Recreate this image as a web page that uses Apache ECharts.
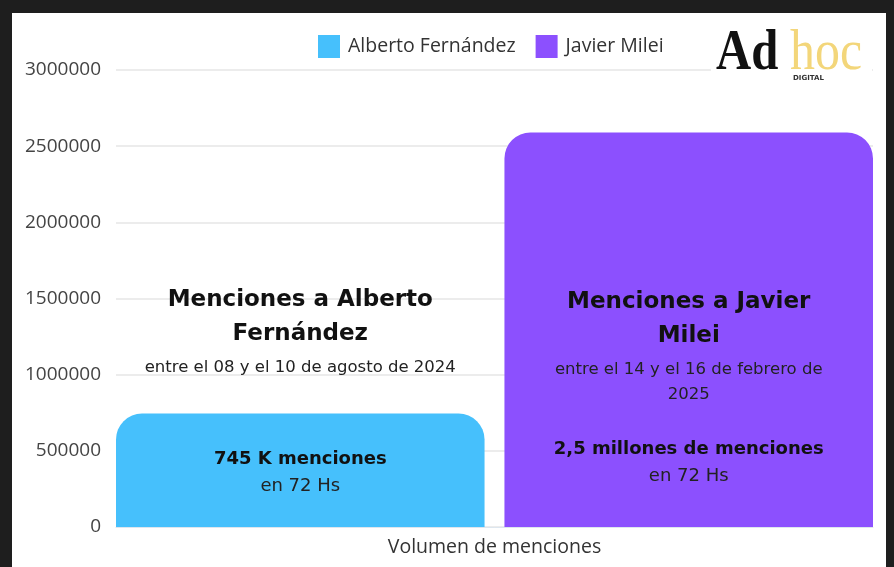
<!DOCTYPE html>
<html>
<head>
<meta charset="utf-8">
<script src="https://cdn.jsdelivr.net/npm/echarts@6/dist/echarts.min.js"></script>
<style>
  html, body { margin: 0; padding: 0; background: #1e1e1e; width: 894px; height: 567px; overflow: hidden; }
  #main { position: absolute; left: 12px; top: 13px; width: 874px; height: 554px; background: #ffffff; }
</style>
</head>
<body>
<div id="main"></div>
<script>
var categories = ["Volumen de menciones"];
var seriesNames = ["Alberto Fernández", "Javier Milei"];
var fernandezValues = [745000];
var mileiValues = [2590000];
var yTicks = [0, 500000, 1000000, 1500000, 2000000, 2500000, 3000000];

var fernandezTitle = ["Menciones a Alberto", "Fernández"];
var fernandezDates = ["entre el 08 y el 10 de agosto de 2024"];
var fernandezTotal = ["745 K menciones", "en 72 Hs"];
var mileiTitle = ["Menciones a Javier", "Milei"];
var mileiDates = ["entre el 14 y el 16 de febrero de", "2025"];
var mileiTotal = ["2,5 millones de menciones", "en 72 Hs"];

var labelFont = "DejaVu Sans";
var richStyles = {
  t: { fontFamily: labelFont, fontSize: 23, fontWeight: "bold", color: "#111", lineHeight: 34 },
  s: { fontFamily: labelFont, fontSize: 16.5, color: "#222", lineHeight: 32 },
  s2: { fontFamily: labelFont, fontSize: 16.5, color: "#222", lineHeight: 18 },
  gapA: { fontSize: 10, lineHeight: 62 },
  gapB: { fontSize: 10, lineHeight: 32 },
  b: { fontFamily: labelFont, fontSize: 18, fontWeight: "bold", color: "#111", lineHeight: 28 },
  n: { fontFamily: labelFont, fontSize: 18, color: "#222", lineHeight: 26 }
};

var fernandezText = [
  "{t|" + fernandezTitle[0] + "}", "{t|" + fernandezTitle[1] + "}",
  "{s|" + fernandezDates[0] + "}", "{gapA| }",
  "{b|" + fernandezTotal[0] + "}", "{n|" + fernandezTotal[1] + "}"
].join("\n");
var mileiText = [
  "{t|" + mileiTitle[0] + "}", "{t|" + mileiTitle[1] + "}",
  "{s|" + mileiDates[0] + "}", "{s2|" + mileiDates[1] + "}", "{gapB| }",
  "{b|" + mileiTotal[0] + "}", "{n|" + mileiTotal[1] + "}"
].join("\n");

function barLabel(text, dy) {
  return {
    show: true,
    position: "top",
    distance: 0,
    align: "center",
    verticalAlign: "top",
    offset: [0, dy],
    formatter: function () { return text; },
    rich: richStyles
  };
}

var chart = echarts.init(document.getElementById("main"));
chart.setOption({
  animation: false,
  textStyle: { fontFamily: "Open Sans" },
  legend: {
    data: seriesNames,
    left: 301,
    top: 17,
    itemWidth: 22,
    itemHeight: 23,
    itemGap: 20,
    icon: "rect",
    textStyle: { fontFamily: "Open Sans", fontSize: 19.5, color: "#333", padding: [0, 0, 0, 3] }
  },
  grid: { left: 104, right: 13, top: 57, bottom: 40 },
  xAxis: {
    type: "category",
    data: categories,
    axisTick: { show: false },
    axisLine: { lineStyle: { color: "#dde6ee", width: 1 } },
    axisLabel: { fontFamily: "Open Sans", fontSize: 19.5, color: "#333", margin: 10 }
  },
  yAxis: {
    type: "value",
    min: yTicks[0],
    max: yTicks[yTicks.length - 1],
    interval: yTicks[1] - yTicks[0],
    axisLabel: {
      fontFamily: "Open Sans", fontSize: 19, color: "#444", margin: 15,
      formatter: function (v) { return String(v); }
    },
    splitLine: { lineStyle: { color: "#ececec", width: 2 } }
  },
  graphic: [
    { type: "rect", left: 699, top: 11, shape: { width: 161, height: 64 }, style: { fill: "#ffffff" }, z: 10 },
    { type: "text", left: 704, top: 12, scaleX: 0.84, style: { text: "Ad", font: "bold 58px 'Liberation Serif'", fill: "#111" }, z: 11 },
    { type: "text", left: 778, top: 12, scaleX: 0.86, style: { text: "hoc", font: "58px 'Liberation Serif'", fill: "#f3d67a" }, z: 11 },
    { type: "text", left: 781, top: 62, style: { text: "DIGITAL", font: "bold 7px 'DejaVu Sans'", fill: "#333" }, z: 11 }
  ],
  series: [
    {
      name: seriesNames[0],
      type: "bar",
      data: fernandezValues,
      barCategoryGap: "0%",
      barGap: "5.4%",
      itemStyle: { color: "#46c0fc", borderRadius: [26, 26, 0, 0] },
      label: barLabel(fernandezText, -130)
    },
    {
      name: seriesNames[1],
      type: "bar",
      data: mileiValues,
      barCategoryGap: "0%",
      barGap: "5.4%",
      itemStyle: { color: "#8c50fe", borderRadius: [26, 26, 0, 0] },
      label: barLabel(mileiText, 153)
    }
  ]
});
</script>
</body>
</html>
